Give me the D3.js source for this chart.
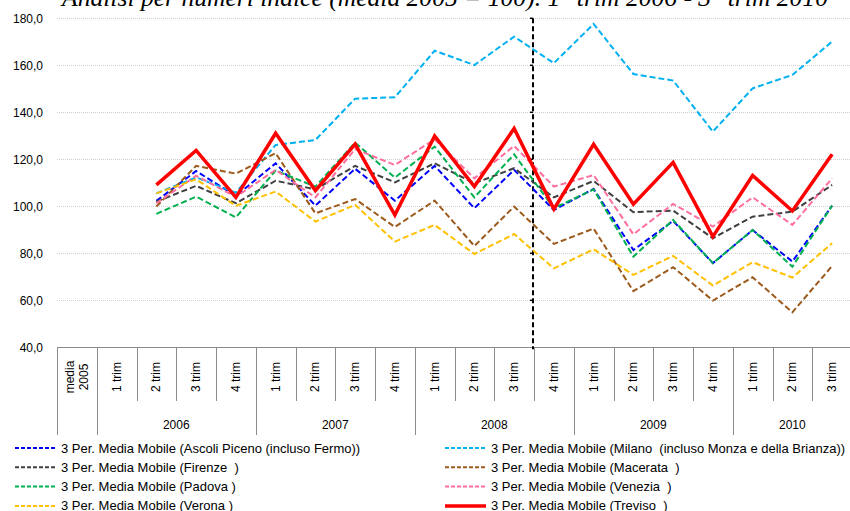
<!DOCTYPE html>
<html>
<head>
<meta charset="utf-8">
<script src="https://cdn.jsdelivr.net/npm/d3@7"></script>
<style>
  body { margin: 0; background: #fff; }
  svg { display: block; font-family: "Liberation Sans", Arial, sans-serif; }
</style>
</head>
<body>
<div id="chart"></div>
<script>
// categorie: media 2005 + trimestri 2006 .. 3 trim 2010
var yearLabels = ['2006', '2007', '2008', '2009', '2010'];
var quartersPerYear = [4, 4, 4, 4, 3];
var yTicks = [40, 60, 80, 100, 120, 140, 160, 180];

// valori (media mobile 3 periodi), null dove la media non esiste
var ascoli   = [null, null, 102.3, 115.0, 104.4, 118.3, 100.3, 116.0, 102.4, 117.2, 99.2, 115.5, 98.4, 107.4, 81.4, 93.8, 75.8, 89.9, 76.5, 100.3];
var milano   = [null, null, 105.5, 112.3, 105.8, 126.1, 128.2, 145.8, 146.4, 166.2, 160.1, 172.2, 160.9, 177.6, 156.3, 153.5, 131.8, 150.2, 155.9, 170.1];
var firenze  = [null, null, 102.0, 108.7, 101.3, 110.9, 107.2, 117.2, 110.2, 118.3, 109.8, 116.2, 103.8, 110.8, 97.5, 98.2, 86.4, 95.6, 97.7, 109.1];
var macerata = [null, null, 99.9, 117.2, 113.9, 122.6, 97.0, 103.1, 91.2, 102.4, 83.1, 99.9, 84.0, 90.5, 63.9, 74.1, 59.9, 69.8, 54.9, 74.6];
var padova   = [null, null, 96.8, 104.1, 95.3, 115.2, 108.4, 127.1, 112.2, 125.4, 103.8, 122.1, 99.2, 107.2, 78.6, 94.2, 75.8, 89.9, 74.3, 100.3];
var venezia  = [null, null, 101.3, 113.0, 104.0, 115.5, 103.8, 124.3, 117.6, 128.5, 111.9, 125.7, 108.4, 113.3, 88.1, 101.0, 91.4, 103.8, 92.1, 111.9];
var verona   = [null, null, 105.5, 111.5, 100.2, 106.3, 93.5, 100.6, 85.0, 92.1, 79.7, 88.2, 73.6, 81.7, 70.8, 78.9, 66.3, 76.2, 69.7, 84.3];
var treviso  = [null, null, 109.1, 123.8, 103.8, 131.1, 106.7, 126.5, 96.3, 129.9, 108.4, 133.1, 98.8, 126.4, 100.9, 118.7, 87.1, 113.1, 98.0, 122.1];

var seriesNames = [
  '3 Per. Media Mobile (Ascoli Piceno (incluso Fermo))',
  '3 Per. Media Mobile (Milano  (incluso Monza e della Brianza))',
  '3 Per. Media Mobile (Firenze  )',
  '3 Per. Media Mobile (Macerata  )',
  '3 Per. Media Mobile (Padova )',
  '3 Per. Media Mobile (Venezia  )',
  '3 Per. Media Mobile (Verona )',
  '3 Per. Media Mobile (Treviso  )'
];
var seriesValues = [ascoli, milano, firenze, macerata, padova, venezia, verona, treviso];
var seriesColors = ['#0000ff', '#00b0f0', '#404040', '#9c5a1c', '#00b050', '#ff6f9c', '#ffc000', '#ff0000'];
var titleText = 'Analisi per numeri indice (media 2005 = 100). 1° trim 2006 - 3° trim 2010';

// costruzione categorie
var categories = [{ id: 'm2005', label: ['media', '2005'] }];
yearLabels.forEach(function (yr, yi) {
  for (var q = 1; q <= quartersPerYear[yi]; q++) {
    categories.push({ id: yr + '-' + q, label: [q + ' trim'], year: yr });
  }
});

var W = 850, H = 511;
var plotL = 57, plotR = 852, plotT = 18.3, plotB = 347.3;

var svg = d3.select('#chart').append('svg')
  .attr('width', W)
  .attr('height', H);

var x = d3.scaleBand()
  .domain(categories.map(function (d) { return d.id; }))
  .range([plotL, plotR])
  .padding(0);

var y = d3.scaleLinear()
  .domain([40, 180])
  .range([plotB, plotT]);

// titolo (tagliato in alto come nell'originale)
var title = svg.append('text')
  .attr('x', 445)
  .attr('y', 6)
  .attr('text-anchor', 'middle')
  .style('font-family', '"Liberation Serif", "Times New Roman", serif')
  .style('font-style', 'italic')
  .style('font-size', '20px')
  .text(titleText);
var tw = title.node().getComputedTextLength();
title.style('font-size', (20 * 766 / tw) + 'px');

// griglia
svg.append('g')
  .selectAll('line')
  .data(yTicks.filter(function (v) { return v > 40; }))
  .enter().append('line')
  .attr('x1', plotL)
  .attr('x2', plotR)
  .attr('y1', function (d) { return Math.round(y(d)) + 0.5; })
  .attr('y2', function (d) { return Math.round(y(d)) + 0.5; })
  .attr('stroke', '#cfcfcf')
  .attr('stroke-width', 1)
  .attr('stroke-dasharray', '1,1');

// asse y
var yAxis = d3.axisLeft(y)
  .tickValues(yTicks)
  .tickSize(0)
  .tickPadding(0)
  .tickFormat(function (d) { return d3.format('.1f')(d).replace('.', ','); });

svg.append('g')
  .attr('transform', 'translate(43,0)')
  .call(yAxis)
  .call(function (g) { g.select('.domain').remove(); })
  .selectAll('text')
  .style('font-size', '12px')
  .style('font-family', '"Liberation Sans", Arial, sans-serif')
  .attr('fill', '#000');

// asse x
var axisColor = '#8c8c8c';
var axY = Math.round(plotB) + 0.5;
svg.append('line')
  .attr('x1', plotL).attr('x2', plotR)
  .attr('y1', axY).attr('y2', axY)
  .attr('stroke', axisColor);

var catTicks = svg.append('g');
categories.forEach(function (c, i) {
  var bx = Math.round(x(c.id)) + 0.5;
  var isGroupStart = (i === 0) || c.label[0] === '1 trim';
  catTicks.append('line')
    .attr('x1', bx).attr('x2', bx)
    .attr('y1', axY).attr('y2', isGroupStart ? 435 : 401)
    .attr('stroke', axisColor);
});
catTicks.append('line')
  .attr('x1', plotR - 0.5).attr('x2', plotR - 0.5)
  .attr('y1', axY).attr('y2', 435)
  .attr('stroke', axisColor);

// etichette trimestri (ruotate)
var catLabels = svg.append('g');
categories.forEach(function (c) {
  var cx = x(c.id) + x.bandwidth() / 2;
  var n = c.label.length;
  c.label.forEach(function (t, li) {
    var lx = cx + (li - (n - 1) / 2) * 14 + 4;
    catLabels.append('text')
      .attr('transform', 'translate(' + lx + ',377) rotate(-90)')
      .attr('text-anchor', 'middle')
      .style('font-size', '12px')
      .text(t);
  });
});

// etichette anni
yearLabels.forEach(function (yr) {
  var cats = categories.filter(function (c) { return c.year === yr; });
  var x0 = x(cats[0].id), x1 = x(cats[cats.length - 1].id) + x.bandwidth();
  svg.append('text')
    .attr('x', (x0 + x1) / 2)
    .attr('y', 429)
    .attr('text-anchor', 'middle')
    .style('font-size', '12px')
    .text(yr);
});

// linea verticale tratteggiata (fine 3 trim 2008)
var vx = x('2008-4') - 1;
svg.append('line')
  .attr('x1', vx).attr('x2', vx)
  .attr('y1', plotT).attr('y2', plotB + 2)
  .attr('stroke', '#000')
  .attr('stroke-width', 2)
  .attr('stroke-dasharray', '5,3');
svg.append('g')
  .selectAll('line')
  .data(yTicks.filter(function (v) { return v > 40; }))
  .enter().append('line')
  .attr('x1', vx - 3).attr('x2', vx)
  .attr('y1', function (d) { return y(d); })
  .attr('y2', function (d) { return y(d); })
  .attr('stroke', '#000')
  .attr('stroke-width', 1.5);

// serie
var line = d3.line()
  .defined(function (d) { return d.v != null; })
  .x(function (d) { return x(d.id) + x.bandwidth() / 2; })
  .y(function (d) { return y(d.v); });

seriesValues.forEach(function (vals, si) {
  var pts = vals.map(function (v, i) { return { id: categories[i].id, v: v }; });
  var solid = si === 7;
  svg.append('path')
    .datum(pts)
    .attr('fill', 'none')
    .attr('stroke', seriesColors[si])
    .attr('stroke-width', solid ? 3.5 : 2)
    .attr('stroke-dasharray', solid ? null : '6,3')
    .attr('stroke-linejoin', 'miter')
    .attr('d', line);
});

// legenda
var legend = svg.append('g');
seriesNames.forEach(function (name, si) {
  var col = si % 2, row = Math.floor(si / 2);
  var lx = col === 0 ? 15 : 445;
  var ly = 448 + row * 19.3;
  var solid = si === 7;
  legend.append('line')
    .attr('x1', lx).attr('x2', lx + 41)
    .attr('y1', ly).attr('y2', ly)
    .attr('stroke', seriesColors[si])
    .attr('stroke-width', solid ? 3.5 : 2)
    .attr('stroke-dasharray', solid ? null : '4,2');
  legend.append('text')
    .attr('x', lx + 46)
    .attr('y', ly + 4.5)
    .style('font-size', '13px')
    .style('white-space', 'pre')
    .text(name);
});
</script>
</body>
</html>
